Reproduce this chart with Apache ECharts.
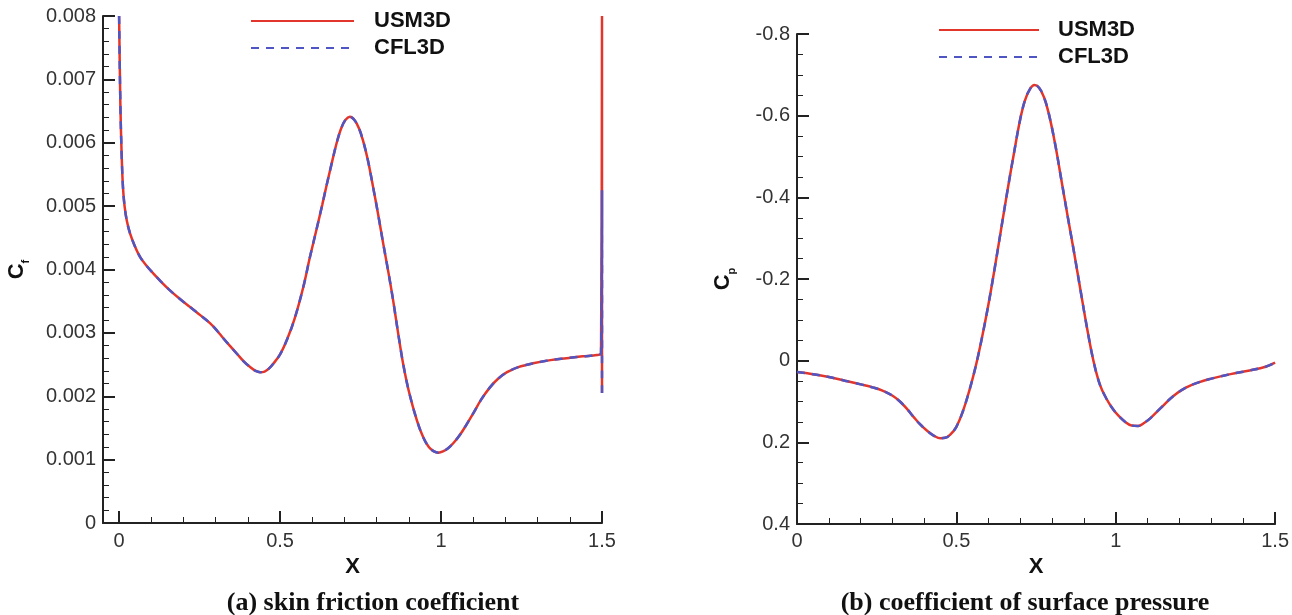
<!DOCTYPE html>
<html>
<head>
<meta charset="utf-8">
<script src="https://cdn.jsdelivr.net/npm/echarts@6/dist/echarts.min.js"></script>
<style>
html,body{margin:0;padding:0;background:#fff;}
#chart{width:1292px;height:615px;}
</style>
</head>
<body>
<div id="chart"></div>
<script>
// ---- Data: (a) skin friction coefficient ----
const cfX      = [0.000, 0.004, 0.008, 0.012, 0.017, 0.024, 0.034, 0.048, 0.065, 0.085, 0.106, 0.130, 0.158, 0.190, 0.220, 0.252, 0.283, 0.305, 0.323, 0.345, 0.366, 0.387, 0.407, 0.424, 0.438, 0.452, 0.466, 0.480, 0.500, 0.522, 0.545, 0.572, 0.593, 0.615, 0.631, 0.646, 0.662, 0.677, 0.690, 0.703, 0.717, 0.731, 0.745, 0.758, 0.773, 0.789, 0.805, 0.820, 0.836, 0.851, 0.866, 0.882, 0.900, 0.925, 0.945, 0.962, 0.978, 0.992, 1.006, 1.022, 1.040, 1.060, 1.080, 1.100, 1.125, 1.152, 1.178, 1.205, 1.240, 1.286, 1.340, 1.390, 1.440, 1.484, 1.497, 1.500, 1.500];
const cfUSM3D  = [0.00800, 0.00660, 0.00580, 0.00530, 0.00500, 0.00477, 0.00457, 0.00438, 0.00420, 0.00406, 0.00394, 0.00381, 0.00367, 0.00353, 0.00341, 0.00328, 0.00315, 0.00303, 0.00292, 0.00279, 0.00267, 0.00255, 0.00246, 0.00240, 0.00238, 0.00239, 0.00244, 0.00252, 0.00266, 0.00290, 0.00322, 0.00372, 0.00420, 0.00467, 0.00502, 0.00536, 0.00571, 0.00602, 0.00623, 0.00636, 0.00641, 0.00636, 0.00623, 0.00603, 0.00572, 0.00530, 0.00486, 0.00442, 0.00397, 0.00352, 0.00302, 0.00252, 0.00208, 0.00162, 0.00135, 0.00120, 0.00113, 0.00111, 0.00113, 0.00118, 0.00127, 0.00140, 0.00156, 0.00173, 0.00195, 0.00214, 0.00228, 0.00238, 0.00246, 0.00252, 0.00257, 0.00260, 0.00263, 0.00265, 0.00268, 0.00800, 0.00205];
const cfCFL3D  = [0.00800, 0.00660, 0.00580, 0.00530, 0.00500, 0.00477, 0.00457, 0.00438, 0.00420, 0.00406, 0.00394, 0.00381, 0.00367, 0.00353, 0.00341, 0.00328, 0.00315, 0.00303, 0.00292, 0.00279, 0.00267, 0.00255, 0.00246, 0.00240, 0.00238, 0.00239, 0.00244, 0.00252, 0.00266, 0.00290, 0.00322, 0.00372, 0.00420, 0.00467, 0.00502, 0.00536, 0.00571, 0.00602, 0.00623, 0.00636, 0.00641, 0.00636, 0.00623, 0.00603, 0.00572, 0.00530, 0.00486, 0.00442, 0.00397, 0.00352, 0.00302, 0.00252, 0.00208, 0.00162, 0.00135, 0.00120, 0.00113, 0.00111, 0.00113, 0.00118, 0.00127, 0.00140, 0.00156, 0.00173, 0.00195, 0.00214, 0.00228, 0.00238, 0.00246, 0.00252, 0.00257, 0.00260, 0.00263, 0.00265, 0.00268, 0.00525, 0.00205];

// ---- Data: (b) coefficient of surface pressure ----
const cpX      = [0.000, 0.050, 0.100, 0.150, 0.200, 0.240, 0.270, 0.300, 0.323, 0.345, 0.365, 0.385, 0.410, 0.430, 0.450, 0.465, 0.480, 0.500, 0.520, 0.540, 0.560, 0.580, 0.600, 0.620, 0.640, 0.660, 0.680, 0.700, 0.715, 0.730, 0.745, 0.760, 0.775, 0.790, 0.810, 0.830, 0.850, 0.870, 0.890, 0.910, 0.930, 0.950, 0.970, 0.990, 1.010, 1.030, 1.050, 1.070, 1.090, 1.110, 1.140, 1.180, 1.220, 1.260, 1.300, 1.360, 1.420, 1.470, 1.500];
const cpUSM3D  = [0.028, 0.033, 0.040, 0.049, 0.058, 0.066, 0.074, 0.086, 0.100, 0.118, 0.137, 0.155, 0.173, 0.184, 0.190, 0.189, 0.182, 0.162, 0.125, 0.075, 0.016, -0.055, -0.135, -0.225, -0.320, -0.415, -0.505, -0.590, -0.637, -0.664, -0.675, -0.668, -0.645, -0.605, -0.530, -0.440, -0.350, -0.262, -0.170, -0.080, 0.000, 0.058, 0.092, 0.117, 0.136, 0.150, 0.159, 0.160, 0.152, 0.140, 0.117, 0.087, 0.066, 0.053, 0.044, 0.033, 0.024, 0.015, 0.005];
const cpCFL3D  = [0.028, 0.033, 0.040, 0.049, 0.058, 0.066, 0.074, 0.086, 0.100, 0.118, 0.137, 0.155, 0.173, 0.184, 0.190, 0.189, 0.182, 0.162, 0.125, 0.075, 0.016, -0.055, -0.135, -0.225, -0.320, -0.415, -0.505, -0.590, -0.637, -0.664, -0.675, -0.668, -0.645, -0.605, -0.530, -0.440, -0.350, -0.262, -0.170, -0.080, 0.000, 0.058, 0.092, 0.117, 0.136, 0.150, 0.159, 0.160, 0.152, 0.140, 0.117, 0.087, 0.066, 0.053, 0.044, 0.033, 0.024, 0.015, 0.005];

// ---- Tick labels ----
const cfXMajor = [0, 0.5, 1, 1.5];
const cfXMinor = [0.1, 0.2, 0.3, 0.4, 0.6, 0.7, 0.8, 0.9, 1.1, 1.2, 1.3, 1.4];
const seriesNames = ['USM3D', 'CFL3D'];
const captions = ['(a) skin friction coefficient', '(b) coefficient of surface pressure'];

const RED = '#e2352b';
const BLUE = '#4f55c2';
const AXIS = '#222';
const LABEL = '#333';
const SANS = 'Liberation Sans, Arial, Helvetica, sans-serif';

function pairs(xs, ys) { return xs.map((x, i) => [x, ys[i]]); }
function fmtX(v) { if (Math.abs(v) < 1e-9) return '0'; return String(+v.toFixed(2)); }
function fmtCf(v) { if (Math.abs(v) < 1e-12) return '0'; return v.toFixed(3); }
function fmtCp(v) { if (Math.abs(v) < 1e-9) return '0'; return v.toFixed(1); }

const axisLine = { show: true, onZero: false, lineStyle: { color: AXIS, width: 2 } };
const labelStyle = { color: LABEL, fontSize: 20, fontFamily: SANS };
const nameStyle = { color: '#111', fontSize: 22, fontWeight: 'bold', fontFamily: SANS };

function legendCfg(left, top, w, pad) {
  return {
    data: seriesNames, orient: 'vertical', left: left, top: top, padding: 0,
    itemWidth: w, itemHeight: 14, itemGap: 5,
    itemStyle: { opacity: 0, borderWidth: 0 },
    textStyle: { fontSize: 22, fontWeight: 'bold', color: '#111', fontFamily: SANS, lineHeight: 22, padding: [0, 0, 0, pad] },
    selectedMode: false
  };
}

const option = {
  backgroundColor: '#fff',
  animation: false,
  grid: [
    { left: 103, top: 16, width: 499, height: 507, containLabel: false },
    { left: 797, top: 34, width: 479, height: 490, containLabel: false }
  ],
  legend: [ legendCfg(250, 10, 103, 15), legendCfg(938, 19, 100, 14) ],
  xAxis: [
    {
      gridIndex: 0, type: 'value', min: -0.05, max: 1.5, position: 'bottom',
      axisLine: axisLine,
      axisTick: { show: true, inside: true, length: 12, lineStyle: { color: AXIS, width: 2 }, customValues: cfXMajor },
      axisLabel: { show: true, customValues: cfXMajor, formatter: fmtX, margin: 8, ...labelStyle },
      splitLine: { show: false },
      name: 'X', nameLocation: 'middle', nameGap: 27, nameTextStyle: nameStyle
    },
    {
      gridIndex: 0, type: 'value', min: -0.05, max: 1.5, position: 'bottom', offset: 0,
      axisLine: { show: false, onZero: false },
      axisTick: { show: true, inside: true, length: 6, lineStyle: { color: AXIS, width: 1 }, customValues: cfXMinor },
      axisLabel: { show: false },
      splitLine: { show: false }
    },
    {
      gridIndex: 1, type: 'value', min: 0, max: 1.5, interval: 0.5, position: 'bottom',
      axisLine: axisLine,
      axisTick: { show: true, inside: true, length: 12, lineStyle: { color: AXIS, width: 2 } },
      minorTick: { show: true, splitNumber: 5, length: 6, lineStyle: { color: AXIS, width: 1 } },
      axisLabel: { show: true, formatter: fmtX, margin: 7, showMinLabel: true, showMaxLabel: true, ...labelStyle },
      splitLine: { show: false },
      name: 'X', nameLocation: 'middle', nameGap: 27, nameTextStyle: nameStyle
    }
  ],
  yAxis: [
    {
      gridIndex: 0, type: 'value', min: 0, max: 0.008, interval: 0.001, position: 'left',
      axisLine: axisLine,
      axisTick: { show: true, inside: true, length: 12, lineStyle: { color: AXIS, width: 2 } },
      minorTick: { show: true, splitNumber: 5, length: 6, lineStyle: { color: AXIS, width: 1 } },
      axisLabel: { show: true, formatter: fmtCf, margin: 7, showMinLabel: true, showMaxLabel: true, ...labelStyle },
      splitLine: { show: false },
      name: '{c|C}{s|f}', nameLocation: 'middle', nameRotate: 90, nameGap: 72,
      nameTextStyle: {
        color: '#111', fontFamily: SANS,
        rich: {
          c: { fontSize: 22, fontWeight: 'bold', fontFamily: SANS, color: '#111', lineHeight: 28 },
          s: { fontSize: 11, fontWeight: 'bold', fontFamily: SANS, color: '#111', verticalAlign: 'bottom', lineHeight: 28 }
        }
      }
    },
    {
      gridIndex: 1, type: 'value', min: -0.8, max: 0.4, interval: 0.2, inverse: true, position: 'left',
      axisLine: axisLine,
      axisTick: { show: true, inside: true, length: 12, lineStyle: { color: AXIS, width: 2 } },
      minorTick: { show: true, splitNumber: 4, length: 6, lineStyle: { color: AXIS, width: 1 } },
      axisLabel: { show: true, formatter: fmtCp, margin: 7, showMinLabel: true, showMaxLabel: true, ...labelStyle },
      splitLine: { show: false },
      name: '{c|C}{s|p}', nameLocation: 'middle', nameRotate: 90, nameGap: 60,
      nameTextStyle: {
        color: '#111', fontFamily: SANS,
        rich: {
          c: { fontSize: 22, fontWeight: 'bold', fontFamily: SANS, color: '#111', lineHeight: 28 },
          s: { fontSize: 11, fontWeight: 'bold', fontFamily: SANS, color: '#111', verticalAlign: 'bottom', lineHeight: 28 }
        }
      }
    }
  ],
  series: [
    {
      name: seriesNames[0], type: 'line', xAxisIndex: 0, yAxisIndex: 0,
      data: pairs(cfX, cfUSM3D), symbol: 'none', smooth: 0.35, clip: true,
      lineStyle: { color: RED, width: 2.5, type: 'solid' }, itemStyle: { color: RED }
    },
    {
      name: seriesNames[1], type: 'line', xAxisIndex: 0, yAxisIndex: 0,
      data: pairs(cfX, cfCFL3D), symbol: 'none', smooth: 0.35, clip: true,
      lineStyle: { color: BLUE, width: 2.5, type: [8, 7] }, itemStyle: { color: BLUE }
    },
    {
      name: seriesNames[0], type: 'line', xAxisIndex: 2, yAxisIndex: 1,
      data: pairs(cpX, cpUSM3D), symbol: 'none', smooth: 0.4, clip: true,
      lineStyle: { color: RED, width: 2.5, type: 'solid' }, itemStyle: { color: RED }
    },
    {
      name: seriesNames[1], type: 'line', xAxisIndex: 2, yAxisIndex: 1,
      data: pairs(cpX, cpCFL3D), symbol: 'none', smooth: 0.4, clip: true,
      lineStyle: { color: BLUE, width: 2.5, type: [8, 7] }, itemStyle: { color: BLUE }
    }
  ],
  graphic: [
    {
      type: 'text', x: 373, y: 603,
      style: { text: captions[0], font: 'bold 26px "Liberation Serif", "Times New Roman", serif', fill: '#111', textAlign: 'center', textVerticalAlign: 'middle' }
    },
    {
      type: 'text', x: 1025, y: 603,
      style: { text: captions[1], font: 'bold 26px "Liberation Serif", "Times New Roman", serif', fill: '#111', textAlign: 'center', textVerticalAlign: 'middle' }
    }
  ]
};

const chart = echarts.init(document.getElementById('chart'), null, { renderer: 'canvas' });
chart.setOption(option);
</script>
</body>
</html>
